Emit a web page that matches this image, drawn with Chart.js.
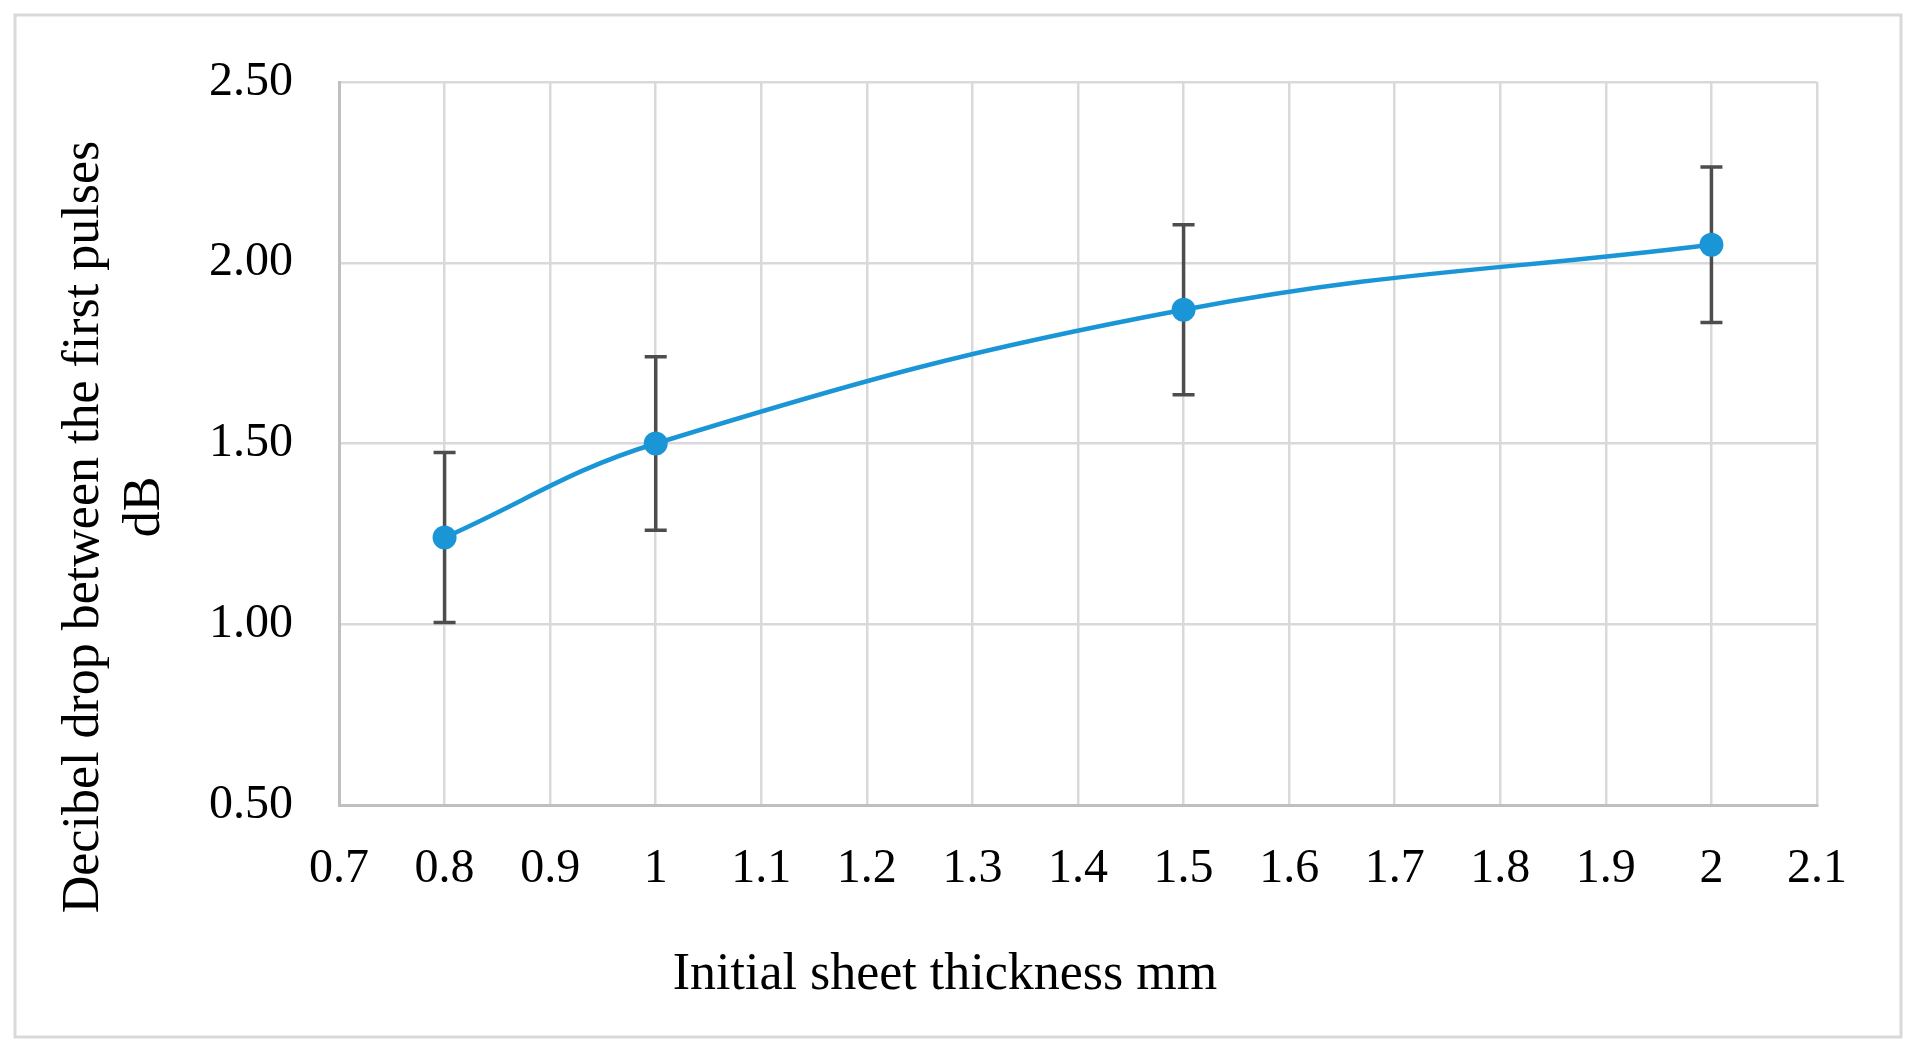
<!DOCTYPE html>
<html>
<head>
<meta charset="utf-8">
<script src="https://cdn.jsdelivr.net/npm/chart.js@4.4.0/dist/chart.umd.min.js"></script>
<style>
    html, body { margin: 0; padding: 0; background: #ffffff; }
    canvas { display: block; }
</style>
</head>
<body>
<canvas id="thicknessChart" width="1917" height="1059"></canvas>
<script>
// values
const thickness = [0.8, 1, 1.5, 2];
const decibelDrop = [1.24, 1.50, 1.87, 2.05];
const decibelError = [0.235, 0.24, 0.235, 0.215];

const xTitle = 'Initial sheet thickness mm';
const yTitle = ['Decibel drop between the first pulses', 'dB'];

const serif = '"Liberation Serif", "DejaVu Serif", serif';

// draws the vertical error bars with caps, behind the markers
const errorBars = {
    id: 'errorBars',
    beforeDatasetsDraw(chart) {
        const ctx = chart.ctx;
        const xs = chart.scales.x;
        const ys = chart.scales.y;
        ctx.save();
        ctx.strokeStyle = '#4d4d4d';
        ctx.lineWidth = 3.5;
        thickness.forEach((t, i) => {
            const x = xs.getPixelForValue(t);
            const top = ys.getPixelForValue(decibelDrop[i] + decibelError[i]);
            const bottom = ys.getPixelForValue(decibelDrop[i] - decibelError[i]);
            ctx.beginPath();
            ctx.moveTo(x, top);
            ctx.lineTo(x, bottom);
            ctx.moveTo(x - 11, top);
            ctx.lineTo(x + 11, top);
            ctx.moveTo(x - 11, bottom);
            ctx.lineTo(x + 11, bottom);
            ctx.stroke();
        });
        ctx.restore();
    }
};

// outer frame and axis titles placed like the original (not centred on the plot)
const frameAndTitles = {
    id: 'frameAndTitles',
    beforeDraw(chart) {
        const ctx = chart.ctx;
        ctx.save();
        ctx.fillStyle = '#ffffff';
        ctx.fillRect(0, 0, chart.width, chart.height);
        ctx.strokeStyle = '#d9d9d9';
        ctx.lineWidth = 3;
        ctx.strokeRect(15, 15, 1886, 1022);
        ctx.restore();
    },
    afterDraw(chart) {
        const ctx = chart.ctx;
        ctx.save();
        ctx.fillStyle = '#000000';
        ctx.font = '52px ' + serif;
        ctx.textAlign = 'center';
        ctx.textBaseline = 'middle';
        ctx.fillText(xTitle, 945, 975);

        ctx.translate(84, 527);
        ctx.rotate(-Math.PI / 2);
        yTitle.forEach((line, i) => {
            ctx.fillText(line, i === 0 ? 0 : 20, i * 61);
        });
        ctx.restore();
    }
};

new Chart(document.getElementById('thicknessChart').getContext('2d'), {
    type: 'line',
    data: {
        datasets: [{
            label: 'Decibel drop',
            data: thickness.map((t, i) => ({ x: t, y: decibelDrop[i] })),
            borderColor: '#1a96d6',
            backgroundColor: '#1a96d6',
            borderWidth: 4.5,
            pointRadius: 12,
            pointBorderWidth: 0,
            tension: 0.4,
            fill: false
        }]
    },
    options: {
        responsive: false,
        animation: false,
        layout: {
            padding: { left: 0, top: 82, right: 100, bottom: 0 }
        },
        plugins: {
            legend: { display: false },
            tooltip: { enabled: false }
        },
        scales: {
            x: {
                type: 'linear',
                min: 0.7,
                max: 2.1,
                afterFit(scale) { scale.height = 254; },
                ticks: {
                    stepSize: 0.1,
                    maxTicksLimit: 20,
                    autoSkip: false,
                    maxRotation: 0,
                    padding: 36,
                    color: '#000000',
                    font: { family: serif, size: 48 },
                    callback: v => String(Math.round(v * 10) / 10)
                },
                grid: { color: '#d9d9d9', lineWidth: 2.5, drawTicks: false },
                border: { color: '#bfbfbf', width: 3 }
            },
            y: {
                min: 0.5,
                max: 2.5,
                afterFit(scale) { scale.width = 339; },
                ticks: {
                    stepSize: 0.5,
                    padding: 46,
                    color: '#000000',
                    font: { family: serif, size: 48 },
                    callback: v => v.toFixed(2)
                },
                grid: { color: '#d9d9d9', lineWidth: 2.5, drawTicks: false },
                border: { color: '#bfbfbf', width: 3 }
            }
        }
    },
    plugins: [errorBars, frameAndTitles]
});
</script>
</body>
</html>
